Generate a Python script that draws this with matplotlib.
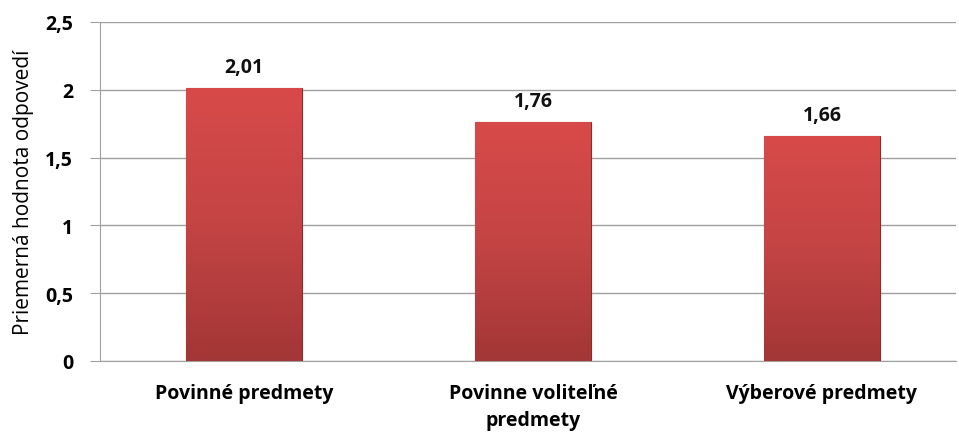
import matplotlib.pyplot as plt
import numpy as np
from matplotlib.ticker import FuncFormatter

categories = ['Povinné predmety', 'Povinne voliteľné\npredmety', 'Výberové predmety']
values = [2.01, 1.76, 1.66]
value_labels = ['2,01', '1,76', '1,66']

plt.rcParams['font.family'] = ['Open Sans', 'DejaVu Sans']

fig = plt.figure(figsize=(9.59, 4.35), dpi=100)
ax = fig.add_axes([99.5 / 959, 73 / 435, 856.5 / 959, 339 / 435])

x = np.arange(len(categories))
bars = ax.bar(x, values, width=0.40, color='#c94141', edgecolor='#8e2a2a',
              linewidth=0.8, zorder=3)

# vertical gradient inside each bar
grad = np.linspace(0, 1, 256).reshape(-1, 1)
cmap = plt.matplotlib.colors.LinearSegmentedColormap.from_list(
    'barred', ['#a33636', '#c44444', '#d84a4a'])
for b in bars:
    x0, y0 = b.get_x(), b.get_y()
    w, h = b.get_width(), b.get_height()
    im = ax.imshow(grad, extent=[x0, x0 + w, y0, y0 + h], origin='lower',
                   cmap=cmap, aspect='auto', zorder=3.5)
    im.set_clip_path(b)

for xi, v, lab in zip(x, values, value_labels):
    ax.annotate(lab, (xi, v), xytext=(0, 8), textcoords='offset points',
                ha='center', va='bottom', fontsize=14, fontweight='bold',
                color='#111111')

ax.set_xlim(-0.5, 2.464)
ax.set_ylim(0, 2.5)
ax.set_yticks([0, 0.5, 1, 1.5, 2, 2.5])
ax.yaxis.set_major_formatter(FuncFormatter(lambda v, p: f'{v:g}'.replace('.', ',')))
ax.set_xticks(x)
ax.set_xticklabels(categories, fontsize=14, fontweight='bold', linespacing=1.45)
ax.tick_params(axis='y', labelsize=14, length=7, color='#a0a0a0', pad=12)
for t in ax.get_yticklabels():
    t.set_fontweight('bold')
ax.tick_params(axis='x', length=0, pad=16)

ax.set_ylabel('Priemerná hodnota odpovedí', fontsize=15, labelpad=8)
ax.grid(axis='y', color='#a0a0a0', linewidth=1, zorder=0)
for s in ['top', 'right']:
    ax.spines[s].set_visible(False)
ax.spines['left'].set_color('#a0a0a0')
ax.spines['bottom'].set_color('#a0a0a0')

fig.savefig('out.png', dpi=100)
